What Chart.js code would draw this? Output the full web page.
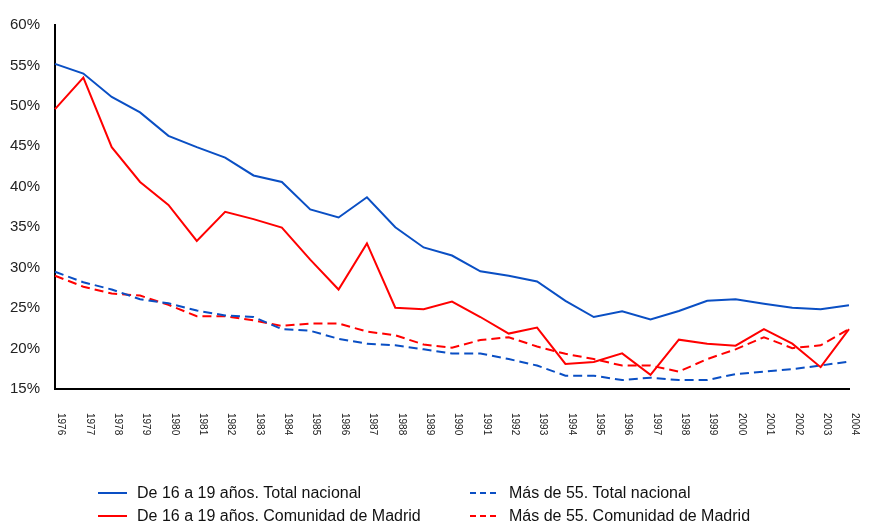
<!DOCTYPE html>
<html>
<head>
<meta charset="utf-8">
<script src="https://cdn.jsdelivr.net/npm/chart.js@4/dist/chart.umd.min.js"></script>
<style>
  html, body { margin: 0; padding: 0; background: #fff; }
  #wrap { width: 869px; height: 523px; }
</style>
</head>
<body>
<div id="wrap"><canvas id="chart" width="869" height="523"></canvas></div>
<script>
const years = ["1976", "1977", "1978", "1979", "1980", "1981", "1982", "1983", "1984", "1985",
  "1986", "1987", "1988", "1989", "1990", "1991", "1992", "1993", "1994", "1995",
  "1996", "1997", "1998", "1999", "2000", "2001", "2002", "2003", "2004"];

const jovenesNacional = [55.2, 54.0, 51.1, 49.2, 46.3, 44.9, 43.6, 41.4, 40.6, 37.2,
  36.2, 38.7, 35.0, 32.5, 31.5, 29.55, 29.0, 28.3, 25.9, 23.9,
  24.6, 23.6, 24.65, 25.9, 26.1, 25.55, 25.05, 24.85, 25.35];

const jovenesMadrid = [49.6, 53.5, 44.9, 40.6, 37.75, 33.3, 36.9, 36.0, 34.95, 31.0,
  27.3, 33.0, 25.05, 24.85, 25.8, 23.9, 21.85, 22.6, 18.1, 18.35,
  19.4, 16.75, 21.1, 20.6, 20.35, 22.4, 20.6, 17.7, 22.4];

const mayoresNacional = [29.5, 28.2, 27.3, 26.1, 25.6, 24.7, 24.1, 23.9, 22.4, 22.2,
  21.2, 20.6, 20.4, 19.9, 19.4, 19.4, 18.7, 17.9, 16.65, 16.65,
  16.1, 16.4, 16.1, 16.1, 16.85, 17.15, 17.45, 17.9, 18.4];

const mayoresMadrid = [29.0, 27.65, 26.8, 26.55, 25.4, 24.0, 24.0, 23.5, 22.8, 23.1,
  23.1, 22.1, 21.65, 20.5, 20.1, 21.05, 21.4, 20.25, 19.35, 18.7,
  17.9, 17.9, 17.15, 18.7, 19.9, 21.4, 20.05, 20.4, 22.4];

const seriesNames = [
  "De 16 a 19 años. Total nacional",
  "De 16 a 19 años. Comunidad de Madrid",
  "Más de 55. Total nacional",
  "Más de 55. Comunidad de Madrid"
];

const blue = "#0a4fc4";
const red = "#ff0000";
const fontFamily = "'Liberation Sans', Arial, sans-serif";

// rotated year labels under the x axis
const yearLabels = {
  id: "yearLabels",
  afterDraw(chart) {
    const ctx = chart.ctx;
    const xs = chart.scales.x;
    ctx.save();
    ctx.fillStyle = "#222";
    ctx.font = "10px " + fontFamily;
    ctx.textBaseline = "middle";
    ctx.textAlign = "left";
    years.forEach((y, i) => {
      const x = xs.getPixelForValue(i);
      ctx.save();
      ctx.translate(x + 6, 413);
      ctx.rotate(Math.PI / 2);
      ctx.fillText(y, 0, 0);
      ctx.restore();
    });
    ctx.restore();
  }
};

// two column legend at the bottom
const bottomLegend = {
  id: "bottomLegend",
  afterDraw(chart) {
    const ctx = chart.ctx;
    const spots = [
      { x: 98, y: 493 },
      { x: 98, y: 516 },
      { x: 470, y: 493 },
      { x: 470, y: 516 }
    ];
    ctx.save();
    chart.data.datasets.forEach((ds, i) => {
      const s = spots[i];
      ctx.strokeStyle = ds.borderColor;
      ctx.lineWidth = 2;
      ctx.setLineDash(ds.borderDash && ds.borderDash.length ? [6, 4] : []);
      ctx.beginPath();
      ctx.moveTo(s.x, s.y);
      ctx.lineTo(s.x + 29, s.y);
      ctx.stroke();
      ctx.setLineDash([]);
      ctx.fillStyle = "#111";
      ctx.font = "16px " + fontFamily;
      ctx.textBaseline = "middle";
      ctx.fillText(ds.label, s.x + 39, s.y + 1);
    });
    ctx.restore();
  }
};

new Chart(document.getElementById("chart"), {
  type: "line",
  data: {
    labels: years,
    datasets: [
      { label: seriesNames[0], data: jovenesNacional, borderColor: blue, borderWidth: 2, pointRadius: 0, tension: 0 },
      { label: seriesNames[1], data: jovenesMadrid, borderColor: red, borderWidth: 2, pointRadius: 0, tension: 0 },
      { label: seriesNames[2], data: mayoresNacional, borderColor: blue, borderWidth: 2, borderDash: [9, 5], pointRadius: 0, tension: 0 },
      { label: seriesNames[3], data: mayoresMadrid, borderColor: red, borderWidth: 2, borderDash: [9, 5], pointRadius: 0, tension: 0 }
    ]
  },
  options: {
    responsive: false,
    animation: false,
    layout: { padding: { top: 25, right: 20, left: 0, bottom: 0 } },
    plugins: {
      legend: { display: false },
      tooltip: { enabled: false }
    },
    scales: {
      x: {
        offset: false,
        grid: { display: false, drawTicks: false },
        border: { display: true, color: "#000", width: 2 },
        ticks: { display: false },
        afterFit(scale) { scale.height = 134; }
      },
      y: {
        min: 15,
        max: 60,
        grid: { display: false, drawTicks: false },
        border: { display: true, color: "#000", width: 2 },
        ticks: {
          stepSize: 5,
          padding: 15,
          color: "#222",
          font: { family: fontFamily, size: 15 },
          callback: (v) => v + "%"
        },
        afterFit(scale) { scale.width = 55; }
      }
    }
  },
  plugins: [yearLabels, bottomLegend]
});
</script>
</body>
</html>
